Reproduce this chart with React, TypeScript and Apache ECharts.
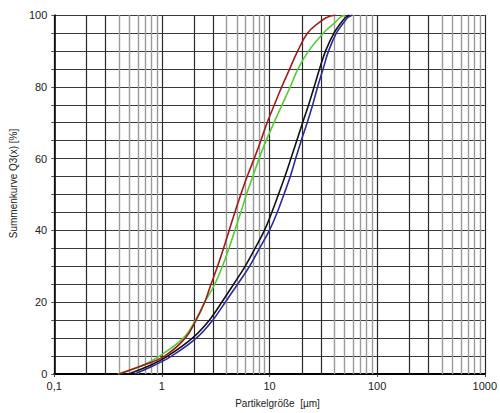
import React, { useEffect, useRef } from "react";
import * as echarts from "echarts";

const xTickLabels = ["0,1", "1", "10", "100", "1000"];
const yTickLabels = ["0", "20", "40", "60", "80", "100"];

const redCurve: [number, number][] = [
  [0.40, 0], [0.68, 2.5], [1.06, 5], [1.65, 10], [2.08, 15], [2.5, 20], [2.86, 25], [3.29, 30],
  [3.74, 35], [4.22, 40], [4.76, 45], [5.41, 50], [6.2, 55], [7.2, 60], [8.3, 65], [9.5, 70],
  [11.1, 75], [13.0, 80], [15.4, 85], [18.3, 90], [22.6, 95], [29.2, 98], [33.9, 99.3], [41, 100],
];
const greenCurve: [number, number][] = [
  [0.39, 0], [0.67, 2.5], [0.95, 5], [1.58, 10], [2.05, 15], [2.5, 20], [3.1, 25], [3.65, 30],
  [4.2, 35], [4.76, 40], [5.41, 45], [6.1, 50], [7.0, 55], [8.0, 60], [9.3, 65], [11.0, 70],
  [13.1, 75], [15.6, 80], [18.4, 85], [23.1, 90], [31.7, 95], [41, 98], [45, 99.3], [50, 100],
];
const blackCurve: [number, number][] = [
  [0.49, 0], [0.79, 2.5], [1.13, 5], [1.92, 10], [2.76, 15], [3.6, 20], [4.64, 25], [5.93, 30],
  [7.33, 35], [8.97, 40], [10.5, 45], [12.1, 50], [13.9, 55], [15.8, 60], [17.9, 65], [20.3, 70],
  [23.1, 75], [26.0, 80], [29.2, 85], [33.2, 90], [39.8, 95], [46.6, 98], [50.8, 99.3], [55.3, 100],
];
const blueCurve: [number, number][] = [
  [0.56, 0], [0.86, 2.5], [1.23, 5], [2.09, 10], [2.97, 15], [3.88, 20], [5.05, 25], [6.52, 30],
  [8.07, 35], [9.98, 40], [11.8, 45], [13.6, 50], [15.6, 55], [17.5, 60], [19.7, 65], [22.4, 70],
  [25.2, 75], [28.0, 80], [31.5, 85], [35.4, 90], [41.9, 95], [49.2, 98], [53.5, 99.3], [58.9, 100],
];

const decades = [0.1, 1, 10, 100];
const darkMultiples = [2, 3];
const lightMultiples = [4, 5, 6, 7, 8, 9];

export default function App() {
  const ref = useRef<HTMLDivElement>(null);
  useEffect(() => {
    if (!ref.current) return;
    const chart = echarts.init(ref.current, undefined, { renderer: "svg" });
    const minorLines: any[] = [];
    decades.forEach((d) => {
      darkMultiples.forEach((m) =>
        minorLines.push({ xAxis: +(d * m).toPrecision(3), lineStyle: { color: "#2a2a2a", width: 1.2, type: "solid" } })
      );
      lightMultiples.forEach((m) =>
        minorLines.push({ xAxis: +(d * m).toPrecision(3), lineStyle: { color: "#9a9a9a", width: 1.4, type: "solid" } })
      );
    });
    const font = "'Liberation Sans', Arial, sans-serif";
    const curve = (data: [number, number][], color: string) => ({
      type: "line",
      data,
      smooth: 0.4,
      showSymbol: false,
      symbol: "none",
      z: 5,
      lineStyle: { color, width: 1.6 },
    });
    chart.setOption({
      animation: false,
      backgroundColor: "#ffffff",
      grid: { left: 54, right: 13, top: 15, bottom: 34, containLabel: false },
      xAxis: {
        type: "log",
        logBase: 10,
        min: 0.1,
        max: 1000,
        name: "Partikelgröße  [µm]",
        nameLocation: "middle",
        nameGap: 24,
        nameTextStyle: { fontFamily: font, fontSize: 10, color: "#222", padding: [0, 0, 0, 16] },
        axisLine: { show: true, lineStyle: { color: "#000", width: 2 } },
        axisTick: { show: true, length: 3, lineStyle: { color: "#444" } },
        axisLabel: {
          fontFamily: font,
          fontSize: 11,
          color: "#222",
          margin: 6,
          formatter: (v: number) => xTickLabels[Math.round(Math.log10(v)) + 1] ?? "",
        },
        splitLine: { show: true, lineStyle: { color: "#2a2a2a", width: 1.2 } },
      },
      yAxis: {
        type: "value",
        min: 0,
        max: 100,
        interval: 5,
        name: "Summenkurve Q3(x) [%]",
        nameLocation: "middle",
        nameGap: 32,
        nameRotate: 90,
        nameTextStyle: { fontFamily: font, fontSize: 10, color: "#222", padding: [0, 0, 0, 22] },
        axisLine: { show: true, lineStyle: { color: "#000", width: 1.5 } },
        axisTick: { show: true, length: 3, lineStyle: { color: "#555" } },
        axisLabel: {
          fontFamily: font,
          fontSize: 11,
          color: "#222",
          margin: 7,
          formatter: (v: number) => (v % 20 === 0 ? yTickLabels[v / 20] : ""),
        },
        splitLine: { show: true, lineStyle: { color: "#3a3a3a", width: 1.2 } },
      },
      series: [
        {
          type: "line",
          data: [],
          silent: true,
          z: 1,
          markLine: {
            silent: true,
            symbol: ["none", "none"],
            label: { show: false },
            animation: false,
            data: minorLines,
          },
        },
        curve(blueCurve, "#2b2b9e"),
        curve(blackCurve, "#111111"),
        curve(greenCurve, "#55cc33"),
        curve(redCurve, "#a31a1a"),
      ],
    });
    return () => chart.dispose();
  }, []);
  return (
    <div
      ref={ref}
      style={{ position: "fixed", left: 0, top: 0, width: 500, height: 413, background: "#fff" }}
    />
  );
}
